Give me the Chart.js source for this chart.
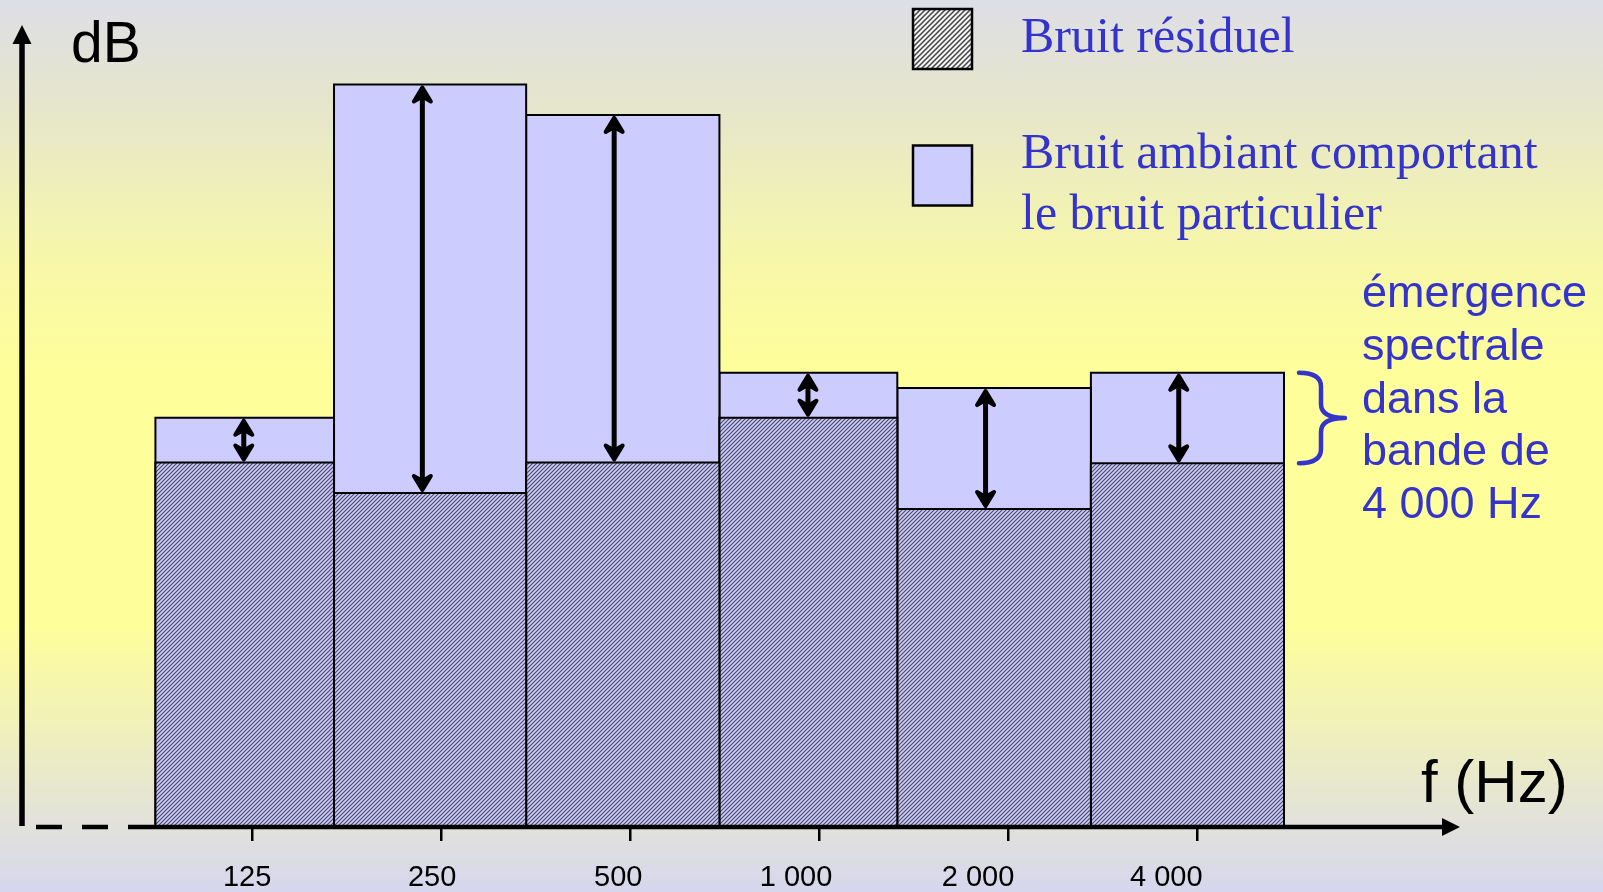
<!DOCTYPE html>
<html lang="fr">
<head>
<meta charset="utf-8">
<title>Émergence spectrale</title>
<script src="https://cdn.jsdelivr.net/npm/chart.js@4.4.1/dist/chart.umd.min.js"></script>
<style>
    html, body { margin: 0; padding: 0; }
    body {
        width: 1603px;
        height: 892px;
        overflow: hidden;
        background: linear-gradient(to bottom,
            #dedee6 0%, #e6e6cc 12%, #f8f8a8 30%, #fefe9a 42%,
            #fefe9a 70%, #f0f0bc 82%, #e2e2da 92%, #d6d6ee 100%);
    }
    #wrap { position: relative; width: 1603px; height: 892px; }
</style>
</head>
<body>
<div id="wrap"><canvas id="emergenceChart"></canvas></div>
<script>
// Bandes d'octave (bords en Hz)
const bandEdgesHz = [87.5, 168.5, 341, 693, 1331, 2708, 5500];
const tickHz = [125, 250, 500, 1000, 2000, 4000];
const labelHz = [122.5, 241.5, 478, 918, 1790, 3571];
const bandLabels = ['125', '250', '500', '1 000', '2 000', '4 000'];

// Niveaux (unités arbitraires en dB)
const residualDb = [45.5, 41.7, 45.5, 51.1, 39.7, 45.4];
const ambientDb = [51.1, 92.7, 88.9, 56.7, 54.8, 56.7];
const arrowHz = [121, 233, 471, 959, 1840, 3738];

const emergenceLines = ['émergence', 'spectrale', 'dans la', 'bande de', '4 000 Hz'];

const BLUE = '#3434cc';
const LAVENDER = '#ccccff';
const SANS = '"Liberation Sans", Arial, sans-serif';
const SERIF = '"Liberation Serif", "Times New Roman", serif';

const canvas = document.getElementById('emergenceChart');
const ctx = canvas.getContext('2d');

// Motif hachuré
function hatch(bg, ink, step, width) {
    const c = document.createElement('canvas');
    c.width = step;
    c.height = step;
    const g = c.getContext('2d');
    g.fillStyle = bg;
    g.fillRect(0, 0, step, step);
    g.strokeStyle = ink;
    g.lineWidth = width;
    g.beginPath();
    g.moveTo(-1, step + 1); g.lineTo(step + 1, -1);
    g.moveTo(-1, 1); g.lineTo(1, -1);
    g.moveTo(step - 1, step + 1); g.lineTo(step + 1, step - 1);
    g.stroke();
    return ctx.createPattern(c, 'repeat');
}

const barHatch = hatch('#cbcbfd', '#4c4c66', 4, 1.15);
const legendHatch = hatch('#f4f4f4', '#444', 5, 1.5);

function bandOutline(i, level) {
    return [
        { x: bandEdgesHz[i], y: 0 },
        { x: bandEdgesHz[i], y: level },
        { x: bandEdgesHz[i + 1], y: level },
        { x: bandEdgesHz[i + 1], y: 0 }
    ];
}

const datasets = [];
bandLabels.forEach((label, i) => {
    datasets.push({
        label: 'Bruit ambiant ' + label,
        data: bandOutline(i, ambientDb[i]),
        backgroundColor: LAVENDER,
        borderColor: '#000',
        borderWidth: 2,
        fill: 'origin',
        order: 2
    });
    datasets.push({
        label: 'Bruit résiduel ' + label,
        data: bandOutline(i, residualDb[i]),
        backgroundColor: barHatch,
        borderColor: '#000',
        borderWidth: 2,
        fill: 'origin',
        order: 1
    });
});

function arrowHead(c, x, y, s) {
    // s = +1 : pointe vers le haut, s = -1 : pointe vers le bas
    c.beginPath();
    c.moveTo(x, y);
    c.lineTo(x + 8.5, y + s * 14);
    c.lineTo(x, y + s * 9);
    c.lineTo(x - 8.5, y + s * 14);
    c.closePath();
    c.fill();
    c.stroke();
}

const decorPlugin = {
    id: 'decor',
    afterDraw(chart) {
        const c = chart.ctx;
        const area = chart.chartArea;
        const xs = chart.scales.x;
        const ys = chart.scales.y;
        c.save();

        // Flèches d'émergence
        c.fillStyle = '#000';
        c.strokeStyle = '#000';
        c.lineJoin = 'round';
        arrowHz.forEach((hz, i) => {
            const x = xs.getPixelForValue(hz);
            const yTop = ys.getPixelForValue(ambientDb[i]);
            const yBot = ys.getPixelForValue(residualDb[i]);
            c.lineWidth = 5;
            c.beginPath();
            c.moveTo(x, yTop + 10);
            c.lineTo(x, yBot - 10);
            c.stroke();
            c.lineWidth = 4;
            arrowHead(c, x, yTop + 3, 1);
            arrowHead(c, x, yBot - 3, -1);
        });

        // Accolade
        const last = bandLabels.length - 1;
        const bx0 = xs.getPixelForValue(bandEdgesHz[last + 1]) + 15;
        const bxm = bx0 + 22;
        const bxt = bx0 + 46;
        const by0 = ys.getPixelForValue(ambientDb[last]);
        const by1 = ys.getPixelForValue(residualDb[last]);
        const bym = (by0 + by1) / 2;
        const r = 14;
        c.strokeStyle = BLUE;
        c.lineWidth = 4.5;
        c.lineCap = 'round';
        c.lineJoin = 'round';
        c.beginPath();
        c.moveTo(bx0, by0);
        c.quadraticCurveTo(bxm, by0, bxm, by0 + r);
        c.lineTo(bxm, bym - r);
        c.quadraticCurveTo(bxm, bym, bxt, bym);
        c.quadraticCurveTo(bxm, bym, bxm, bym + r);
        c.lineTo(bxm, by1 - r);
        c.quadraticCurveTo(bxm, by1, bx0, by1);
        c.stroke();

        // Axes
        c.strokeStyle = '#000';
        c.fillStyle = '#000';
        c.lineCap = 'butt';
        c.lineJoin = 'miter';
        const ax = area.left;
        const ay = area.bottom;
        c.lineWidth = 5.5;
        c.beginPath();
        c.moveTo(ax, ay - 1);
        c.lineTo(ax, area.top + 16);
        c.stroke();
        c.beginPath();
        c.moveTo(ax, area.top - 1);
        c.lineTo(ax + 9.5, area.top + 18);
        c.lineTo(ax - 9.5, area.top + 18);
        c.closePath();
        c.fill();

        c.lineWidth = 4.5;
        c.setLineDash([26, 20]);
        c.beginPath();
        c.moveTo(ax + 14, ay);
        c.lineTo(ax + 106, ay);
        c.stroke();
        c.setLineDash([]);
        c.beginPath();
        c.moveTo(ax + 106, ay);
        c.lineTo(area.right - 16, ay);
        c.stroke();
        c.beginPath();
        c.moveTo(area.right, ay);
        c.lineTo(area.right - 18, ay - 9);
        c.lineTo(area.right - 18, ay + 9);
        c.closePath();
        c.fill();

        // Titres des axes
        c.textBaseline = 'alphabetic';
        c.textAlign = 'left';
        c.font = '57px ' + SANS;
        c.fillText('dB', 71, 62);
        c.font = '60px ' + SANS;
        c.fillText('f (Hz)', 1421, 802);

        // Légende
        c.lineWidth = 2.5;
        c.fillStyle = legendHatch;
        c.fillRect(913, 9, 59, 60);
        c.strokeRect(913, 9, 59, 60);
        c.fillStyle = LAVENDER;
        c.fillRect(913, 145.5, 59, 60);
        c.strokeRect(913, 145.5, 59, 60);

        c.fillStyle = BLUE;
        c.font = '50px ' + SERIF;
        c.fillText('Bruit résiduel', 1021, 52);
        c.fillText('Bruit ambiant comportant', 1021, 168);
        c.fillText('le bruit particulier', 1021, 229);

        c.font = '45px ' + SANS;
        emergenceLines.forEach((line, i) => {
            c.fillText(line, 1362, 307 + i * 52.75);
        });

        c.restore();
    }
};

new Chart(canvas, {
    type: 'line',
    data: { datasets: datasets },
    options: {
        responsive: true,
        maintainAspectRatio: false,
        animation: false,
        events: [],
        layout: {
            padding: { left: 22, right: 143, top: 26, bottom: -22 }
        },
        elements: {
            line: { tension: 0, borderJoinStyle: 'miter' },
            point: { radius: 0 }
        },
        plugins: {
            legend: { display: false },
            tooltip: { enabled: false }
        },
        scales: {
            x: {
                type: 'logarithmic',
                position: 'bottom',
                weight: 0,
                min: 53.63,
                max: 10491,
                bounds: 'data',
                afterBuildTicks: axis => {
                    axis.ticks = tickHz.map(v => ({ value: v }));
                },
                grid: {
                    display: true,
                    drawOnChartArea: false,
                    drawTicks: true,
                    tickLength: 14,
                    color: '#000',
                    lineWidth: 2.5
                },
                border: { display: false },
                ticks: { display: false }
            },
            x2: {
                type: 'logarithmic',
                position: 'bottom',
                weight: 1,
                min: 53.63,
                max: 10491,
                bounds: 'data',
                afterBuildTicks: axis => {
                    axis.ticks = labelHz.map(v => ({ value: v }));
                },
                grid: { display: false, drawTicks: false },
                border: { display: false },
                ticks: {
                    autoSkip: false,
                    maxRotation: 0,
                    minRotation: 0,
                    padding: 22,
                    color: '#000',
                    font: { family: 'Liberation Sans', size: 29, lineHeight: 1 },
                    callback: (value, index) => bandLabels[index]
                }
            },
            y: {
                display: false,
                min: 0,
                max: 100
            }
        }
    },
    plugins: [decorPlugin]
});
</script>
</body>
</html>
